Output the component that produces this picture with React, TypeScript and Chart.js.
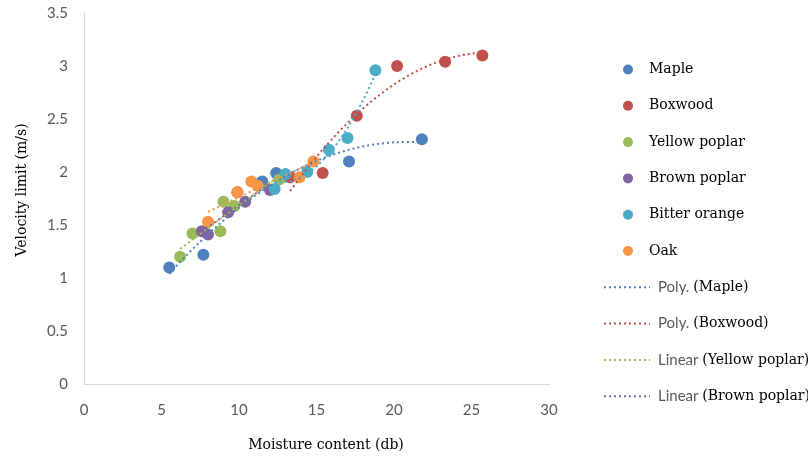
import React, { useEffect, useRef } from "react";
import { Chart, registerables } from "chart.js";
Chart.register(...registerables);

// ---- data ----
const seriesNames = ["Maple", "Boxwood", "Yellow poplar", "Brown poplar", "Bitter orange", "Oak"];
const seriesColors = ["#4F81BD", "#C0504D", "#9BBB59", "#8064A2", "#4BACC6", "#F79646"];

const mapleX = [5.5, 7.7, 11.5, 12.4, 17.1, 21.8];
const mapleY = [1.1, 1.22, 1.91, 1.99, 2.1, 2.31];
const boxwoodX = [13.3, 15.4, 17.6, 20.2, 23.3, 25.7];
const boxwoodY = [1.95, 1.99, 2.53, 3.0, 3.04, 3.1];
const yellowX = [6.2, 7.0, 8.8, 9.0, 9.7, 12.6];
const yellowY = [1.2, 1.42, 1.44, 1.72, 1.68, 1.93];
const brownX = [7.6, 8.0, 9.3, 9.9, 10.4, 12.0];
const brownY = [1.44, 1.41, 1.62, 1.81, 1.72, 1.83];
const bitterX = [12.3, 13.0, 14.4, 15.8, 17.0, 18.8];
const bitterY = [1.84, 1.98, 2.0, 2.21, 2.32, 2.96];
const oakX = [8.0, 9.9, 10.8, 11.2, 13.9, 14.8];
const oakY = [1.53, 1.81, 1.91, 1.87, 1.95, 2.1];

const allX = [mapleX, boxwoodX, yellowX, brownX, bitterX, oakX];
const allY = [mapleY, boxwoodY, yellowY, brownY, bitterY, oakY];

// trendlines: series index, polynomial degree, legend prefix, shown in legend
const trendSeries = [0, 1, 2, 3, 4, 5];
const trendDegree = [2, 2, 1, 1, 2, 1];
const trendPrefix = ["Poly.", "Poly.", "Linear", "Linear", "Poly.", "Linear"];
const trendInLegend = [true, true, true, true, false, false];

const xTicksMax = 30;
const yTicksMax = 3.5;

const xTitle = "Moisture content (db)";
const yTitle = "Velocity limit (m/s)";

// ---- least squares polynomial fit ----
function polyFit(xs: number[], ys: number[], deg: number): number[] {
  const n = deg + 1;
  const A: number[][] = [];
  for (let r = 0; r < n; r++) {
    const row: number[] = [];
    for (let c = 0; c < n; c++) {
      let s = 0;
      for (const x of xs) s += Math.pow(x, r + c);
      row.push(s);
    }
    let b = 0;
    for (let i = 0; i < xs.length; i++) b += ys[i] * Math.pow(xs[i], r);
    row.push(b);
    A.push(row);
  }
  for (let i = 0; i < n; i++) {
    let p = i;
    for (let k = i + 1; k < n; k++) if (Math.abs(A[k][i]) > Math.abs(A[p][i])) p = k;
    [A[i], A[p]] = [A[p], A[i]];
    for (let k = i + 1; k < n; k++) {
      const f = A[k][i] / A[i][i];
      for (let j = i; j <= n; j++) A[k][j] -= f * A[i][j];
    }
  }
  const coef = new Array(n).fill(0);
  for (let i = n - 1; i >= 0; i--) {
    let s = A[i][n];
    for (let j = i + 1; j < n; j++) s -= A[i][j] * coef[j];
    coef[i] = s / A[i][i];
  }
  return coef;
}

const SERIF = "'DejaVu Serif', serif";
const SANS = "Lato, 'Open Sans', sans-serif";

const trendPlugin = {
  id: "trendlines",
  afterDatasetsDraw(chart: any) {
    const { ctx, scales, chartArea } = chart;
    const xs = scales.x, ys = scales.y;
    ctx.save();
    ctx.beginPath();
    ctx.rect(chartArea.left, chartArea.top, chartArea.right - chartArea.left, chartArea.bottom - chartArea.top);
    ctx.clip();
    trendSeries.forEach((si, ti) => {
      const X = allX[si], Y = allY[si];
      const coef = polyFit(X, Y, trendDegree[ti]);
      const x0 = Math.min(...X), x1 = Math.max(...X);
      const f = (x: number) => coef.reduce((s, c, k) => s + c * Math.pow(x, k), 0);
      ctx.strokeStyle = seriesColors[si];
      ctx.lineWidth = 2;
      ctx.setLineDash([2, 3]);
      ctx.beginPath();
      const steps = 60;
      for (let k = 0; k <= steps; k++) {
        const x = x0 + ((x1 - x0) * k) / steps;
        const px = xs.getPixelForValue(x), py = ys.getPixelForValue(f(x));
        if (k === 0) ctx.moveTo(px, py);
        else ctx.lineTo(px, py);
      }
      ctx.stroke();
    });
    ctx.restore();
  },
};

const titlesPlugin = {
  id: "axisTitles",
  afterDraw(chart: any) {
    const { ctx } = chart;
    ctx.save();
    ctx.fillStyle = "#000";
    ctx.font = `14px ${SERIF}`;
    ctx.textAlign = "center";
    ctx.textBaseline = "middle";
    ctx.fillText(xTitle, 326, 445);
    ctx.translate(22, 190);
    ctx.rotate(-Math.PI / 2);
    ctx.fillText(yTitle, 0, 0);
    ctx.restore();
  },
};

const legendPlugin = {
  id: "customLegend",
  afterDraw(chart: any) {
    const { ctx } = chart;
    ctx.save();
    const startY = 69.5;
    const step = 36.3;
    let row = 0;
    seriesNames.forEach((name, i) => {
      const y = startY + step * row++;
      ctx.fillStyle = seriesColors[i];
      ctx.beginPath();
      ctx.arc(628, y, 5, 0, Math.PI * 2);
      ctx.fill();
      ctx.fillStyle = "#000";
      ctx.font = `14px ${SERIF}`;
      ctx.textBaseline = "middle";
      ctx.textAlign = "left";
      ctx.fillText(name, 649, y);
    });
    trendSeries.forEach((si, ti) => {
      if (!trendInLegend[ti]) return;
      const y = startY + step * row++;
      ctx.strokeStyle = seriesColors[si];
      ctx.lineWidth = 2;
      ctx.setLineDash([2, 3]);
      ctx.beginPath();
      ctx.moveTo(604, y);
      ctx.lineTo(650, y);
      ctx.stroke();
      ctx.setLineDash([]);
      ctx.textBaseline = "middle";
      ctx.textAlign = "left";
      ctx.font = `15px ${SANS}`;
      ctx.fillStyle = "#595959";
      const prefix = trendPrefix[ti];
      ctx.fillText(prefix, 658, y);
      const w = ctx.measureText(prefix + " ").width;
      ctx.font = `14px ${SERIF}`;
      ctx.fillStyle = "#000";
      ctx.fillText(`(${seriesNames[si]})`, 658 + w, y);
    });
    ctx.restore();
  },
};

export default function App() {
  const ref = useRef<HTMLCanvasElement | null>(null);
  useEffect(() => {
    if (!ref.current) return;
    const datasets = seriesNames.map((name, i) => ({
      label: name,
      data: allX[i].map((x, k) => ({ x, y: allY[i][k] })),
      backgroundColor: seriesColors[i],
      borderColor: seriesColors[i],
      pointRadius: 6,
      pointHoverRadius: 6,
      borderWidth: 0,
      showLine: false,
      order: seriesNames.length - i,
    }));
    const chart = new Chart(ref.current, {
      type: "scatter",
      data: { datasets },
      plugins: [trendPlugin, titlesPlugin, legendPlugin],
      options: {
        animation: false,
        responsive: false,
        layout: { padding: { left: 0, top: 13, right: 259, bottom: 0 } },
        plugins: { legend: { display: false }, tooltip: { enabled: false } },
        scales: {
          x: {
            type: "linear",
            min: 0,
            max: xTicksMax,
            ticks: { stepSize: 5, color: "#595959", font: { family: SANS, size: 15 }, padding: 17 },
            grid: { display: false, drawTicks: false },
            border: { display: true, color: "#D9D9D9", width: 1 },
            title: { display: false },
            afterFit: (s: any) => { s.height = 76; s.paddingLeft = 0; s.paddingRight = 0; },
          },
          y: {
            type: "linear",
            min: 0,
            max: yTicksMax,
            ticks: { stepSize: 0.5, color: "#595959", font: { family: SANS, size: 15 }, padding: 16, callback: (v: any) => `${Number(v)}` },
            grid: { display: false, drawTicks: false },
            border: { display: true, color: "#D9D9D9", width: 1 },
            title: { display: false },
            afterFit: (s: any) => { s.width = 84; s.paddingTop = 0; s.paddingBottom = 0; },
          },
        },
      },
    });
    return () => chart.destroy();
  }, []);
  return (
    <div style={{ position: "fixed", left: 0, top: 0, width: 808, height: 460, background: "#fff" }}>
      <canvas ref={ref} width={808} height={460} />
    </div>
  );
}
